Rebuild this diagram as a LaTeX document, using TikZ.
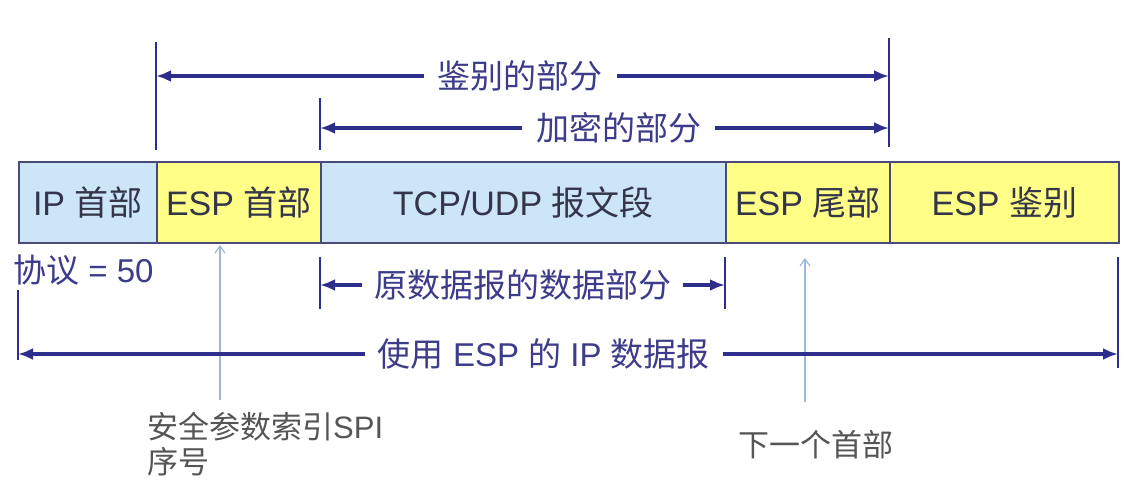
\documentclass[tikz,border=0pt]{standalone}
\usepackage{fontspec}
\setmainfont{Liberation Sans}
\newfontfamily\cjk{Noto Sans CJK SC}
\usetikzlibrary{arrows.meta}
\definecolor{navy}{HTML}{2E2E8C}
\definecolor{labtxt}{HTML}{3C3C8A}
\definecolor{lblue}{HTML}{CCE6F8}
\definecolor{lyellow}{HTML}{FFFF88}
\definecolor{boxline}{HTML}{4A4A78}
\definecolor{boxtxt}{HTML}{35354A}
\definecolor{thinline}{HTML}{A0B8D8}
\definecolor{graytxt}{HTML}{555555}
\begin{document}
\begin{tikzpicture}[x=1pt,y=-1pt,
  field/.style={draw=boxline, line width=1.6pt, minimum height=81pt, inner sep=0pt,
     anchor=north west, font=\fontsize{34}{40}\selectfont, text=boxtxt},
  tick/.style={draw=navy, line width=2.4pt},
  dim/.style={draw=navy, line width=3.2pt, {Latex[length=15pt,width=12pt]}-{Latex[length=15pt,width=12pt]}},
  lab/.style={fill=white, text=labtxt, inner xsep=14pt, inner ysep=2pt, font=\fontsize{33}{38}\selectfont},
  pointer/.style={draw=thinline, line width=1.2pt, -{Straight Barb[length=7pt,width=10pt]}},
  note/.style={text=graytxt, font=\fontsize{31}{36}\selectfont, anchor=west, inner sep=0pt}
]
\useasboundingbox (0,0) rectangle (1132,485);

% fields
\node[field, fill=lblue,   minimum width=138pt] (ip)   at (18,161)  {IP {\cjk 首部}};
\node[field, fill=lyellow, minimum width=164pt] (esph) at (156,161) {ESP {\cjk 首部}};
\node[field, fill=lblue,   minimum width=405pt] (tcp)  at (320,161) {TCP/UDP {\cjk 报文段}};
\node[field, fill=lyellow, minimum width=164pt] (espt) at (725,161) {ESP {\cjk 尾部}};
\node[field, fill=lyellow, minimum width=229pt] (espa) at (889,161) {ESP {\cjk 鉴别}};

% authenticated part
\coordinate (aTopL) at (156,42);
\coordinate (aBotL) at (156,150);
\coordinate (aTopR) at (889,38);
\coordinate (aBotR) at (889,147);
\coordinate (aL) at (156,76);
\coordinate (aR) at (889,76);
\draw[tick] (aTopL) -- (aBotL);
\draw[tick] (aTopR) -- (aBotR);
\draw[dim] (aL) -- node[lab, pos=0.497] (alab) {\cjk 鉴别的部分} (aR);

% encrypted part
\coordinate (eTopL) at (320,98);
\coordinate (eBotL) at (320,150);
\coordinate (eL) at (320,128);
\coordinate (eR) at (889,128);
\draw[tick] (eTopL) -- (eBotL);
\draw[dim] (eL) -- node[lab, pos=0.525] (elab) {\cjk 加密的部分} (eR);

% original datagram data part
\coordinate (oTopL) at (320,257);
\coordinate (oBotL) at (320,309);
\coordinate (oTopR) at (725,257);
\coordinate (oBotR) at (725,309);
\coordinate (oL) at (320,285);
\coordinate (oR) at (725,285);
\draw[tick] (oTopL) -- (oBotL);
\draw[tick] (oTopR) -- (oBotR);
\draw[dim] (oL) -- node[lab, pos=0.5, inner xsep=12pt] (olab) {\cjk 原数据报的数据部分} (oR);

% IP datagram using ESP
\coordinate (dTopL) at (18,290);
\coordinate (dBotL) at (18,360);
\coordinate (dTopR) at (1118,257);
\coordinate (dBotR) at (1118,368);
\coordinate (dL) at (18,354);
\coordinate (dR) at (1118,354);
\draw[tick] (dTopL) -- (dBotL);
\draw[tick] (dTopR) -- (dBotR);

% pointers
\coordinate (p1) at (220,400);
\coordinate (p1t) at (220,245);
\coordinate (p2) at (805,402);
\coordinate (p2t) at (805,258);
\draw[pointer] (p1) -- (p1t);
\draw[pointer] (p2) -- (p2t);

\draw[dim] (dL) -- node[lab, pos=0.478, inner xsep=13pt] (dlab) {{\cjk 使用} ESP {\cjk 的} IP {\cjk 数据报}} (dR);

% protocol
\node[text=labtxt, font=\fontsize{33}{38}\selectfont, anchor=west, inner sep=0pt] (proto) at (13,270) {{\cjk 协议} = 50};

% notes
\node[note] (spi) at (147,427) {{\cjk 安全参数索引}SPI};
\node[note] (seq) at (147,462) {\cjk 序号};
\node[note] (next) at (738,445) {\cjk 下一个首部};
\end{tikzpicture}
\end{document}
